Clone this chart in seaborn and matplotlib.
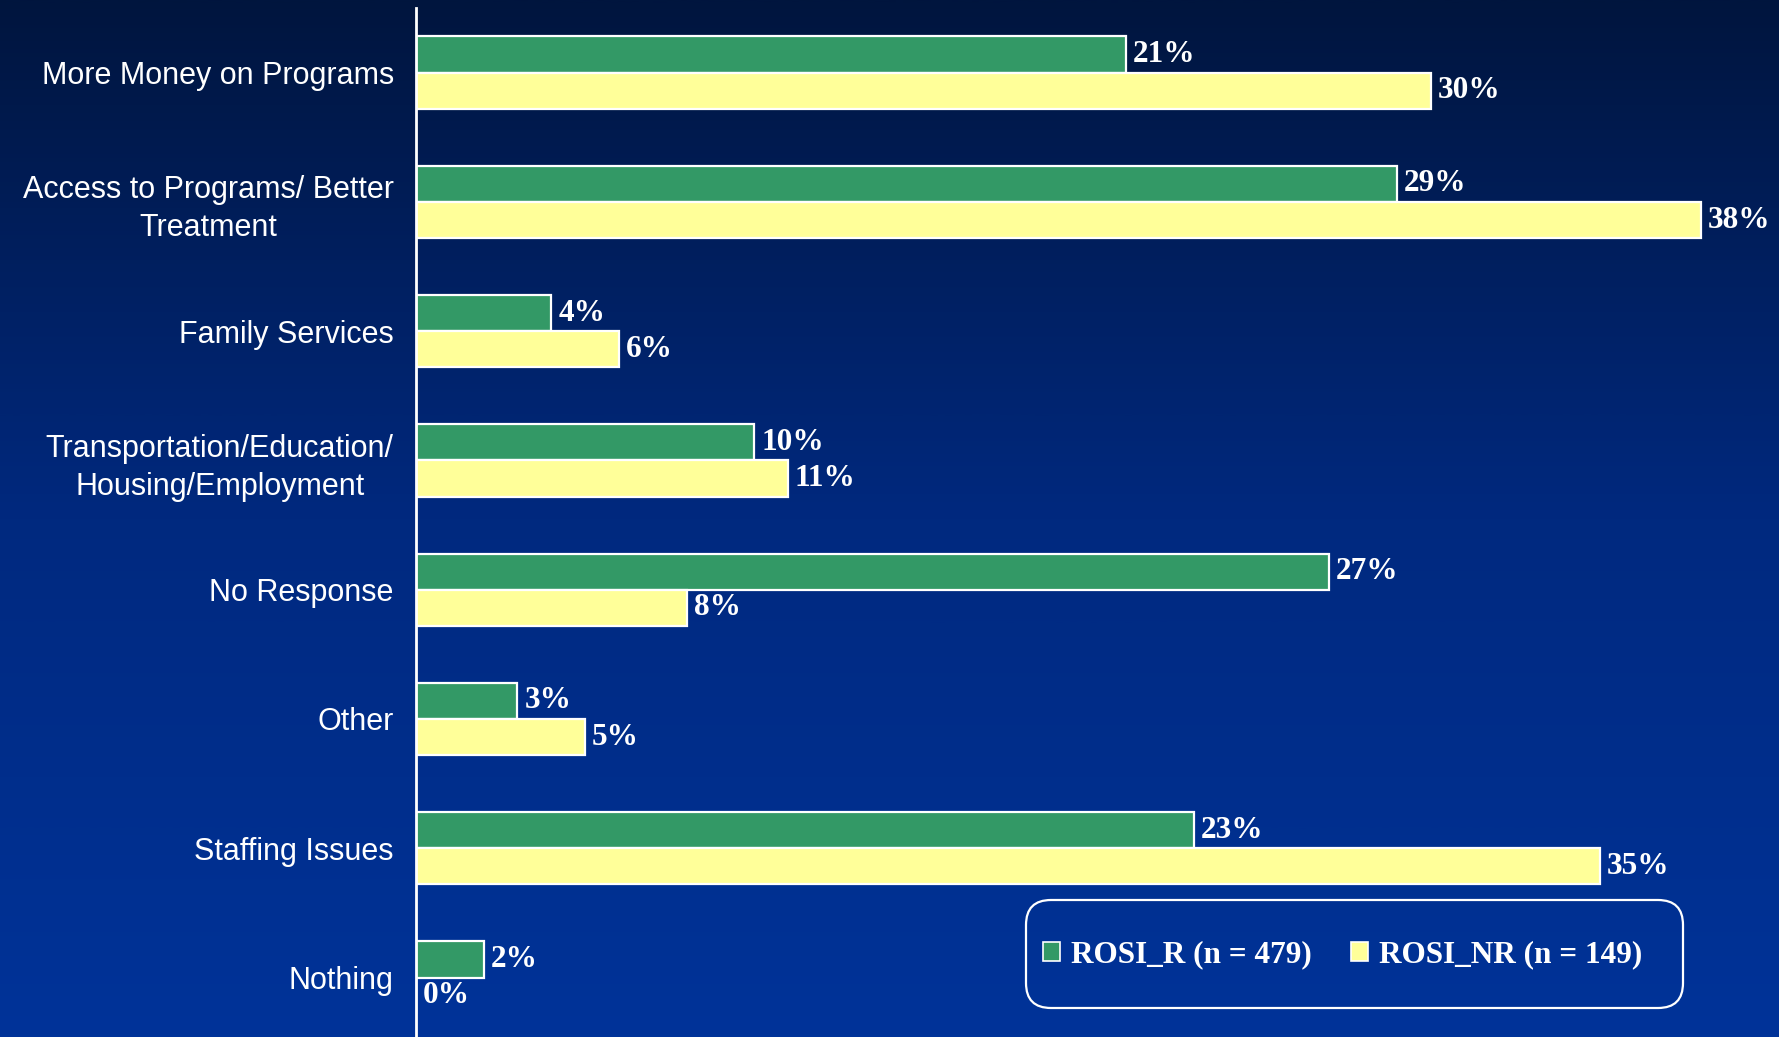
import numpy as np
import pandas as pd
import matplotlib
matplotlib.use("Agg")
import matplotlib.pyplot as plt
from matplotlib.patches import Patch, FancyBboxPatch
from matplotlib.colors import LinearSegmentedColormap
import seaborn as sns

categories = [
    "More Money on Programs",
    "Access to Programs/ Better\nTreatment",
    "Family Services",
    "Transportation/Education/\nHousing/Employment",
    "No Response",
    "Other",
    "Staffing Issues",
    "Nothing",
]
rosi_r = [21, 29, 4, 10, 27, 3, 23, 2]
rosi_nr = [30, 38, 6, 11, 8, 5, 35, 0]
series_names = ["ROSI_R (n = 479)", "ROSI_NR (n = 149)"]
series_colors = ["#339966", "#FFFF99"]

df = pd.DataFrame({
    "category": categories * 2,
    "pct": rosi_r + rosi_nr,
    "group": [series_names[0]] * len(categories) + [series_names[1]] * len(categories),
})

sns.set_theme(style="white")
fig = plt.figure(figsize=(17.79, 10.37), dpi=100)

# vertical navy-to-royal-blue backdrop
bg = fig.add_axes([0, 0, 1, 1], zorder=-10)
grad = np.linspace(0, 1, 512).reshape(-1, 1)
cmap = LinearSegmentedColormap.from_list("navy", ["#00153e", "#00297f", "#003399"])
bg.imshow(grad, aspect="auto", cmap=cmap, extent=[0, 1, 0, 1], origin="upper")
bg.set_axis_off()

ax = fig.add_axes([416 / 1779, 0.0, 1 - 416 / 1779, 1 - 8 / 1037])
ax.set_facecolor("none")

sns.barplot(
    data=df, y="category", x="pct", hue="group", orient="h",
    palette=series_colors, saturation=1, edgecolor="white", linewidth=1.6,
    width=0.56, gap=0, dodge=True, legend=False, ax=ax, errorbar=None,
)

ax.set_xlim(0, 40.3)
ax.set_ylim(7.46, -0.5)
ax.set_xlabel("")
ax.set_ylabel("")
ax.set_xticks([])

for side in ["top", "right", "bottom"]:
    ax.spines[side].set_visible(False)
ax.spines["left"].set_color("white")
ax.spines["left"].set_linewidth(2)

ax.tick_params(axis="y", length=0, pad=16, labelcolor="white", labelsize=22)
for lab in ax.get_yticklabels():
    lab.set_fontfamily("Liberation Sans")
    lab.set_multialignment("center")
    lab.set_linespacing(1.35)

value_font = dict(family="Liberation Serif", weight="bold", size=22.5, color="white")
for cont in ax.containers:
    ax.bar_label(cont, fmt="%d%%", padding=5, **value_font)

# rounded legend box
box = FancyBboxPatch(
    (10.26, 0.29), 6.57, 1.08,
    boxstyle="round,pad=0,rounding_size=0.25",
    transform=fig.dpi_scale_trans, facecolor="none",
    edgecolor="white", linewidth=1.6, zorder=5,
)
fig.patches.append(box)

handles = [Patch(facecolor=c, edgecolor="white", linewidth=1.2) for c in series_colors]
leg = fig.legend(
    handles, series_names, loc="center left",
    bbox_to_anchor=(1027 / 1779, 1 - 955 / 1037), ncol=2,
    frameon=False, handlelength=0.55, handleheight=0.55,
    handletextpad=0.35, columnspacing=1.25, borderpad=0,
    prop=dict(family="Liberation Serif", weight="bold", size=22.5),
)
for t in leg.get_texts():
    t.set_color("white")

fig.savefig("out.png", dpi=100)
